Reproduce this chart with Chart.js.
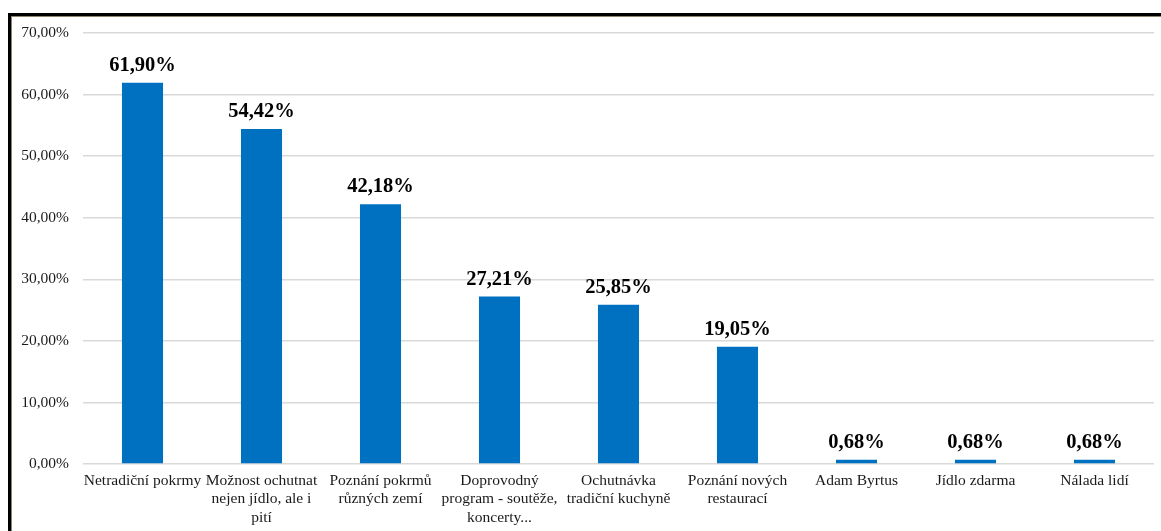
<!DOCTYPE html>
<html lang="cs">
<head>
  <meta charset="UTF-8">
  <title>Důvody návštěvy</title>
  <script src="https://cdn.jsdelivr.net/npm/chart.js"></script>
  <style>
    html, body {
      margin: 0;
      padding: 0;
      background: #fff;
      overflow: hidden;
    }
    #frame {
      position: absolute;
      left: 8px;
      top: 13px;
      width: 1153px;
      height: 518px;
      border-top: 3px solid #000;
      border-left: 3px solid #000;
      box-shadow: inset 1px 1px 0 #8c8670;
    }
    #chart-container {
      position: absolute;
      left: 0;
      top: 0;
      width: 1161px;
      height: 531px;
    }
  </style>
</head>
<body>

<div id="frame"></div>
<div id="chart-container">
  <canvas id="barChart"></canvas>
</div>

<script>
  // categories (multi-line labels as arrays)
  const categories = [
    'Netradiční pokrmy',
    ['Možnost ochutnat', 'nejen jídlo, ale i', 'pití'],
    ['Poznání pokrmů', 'různých zemí'],
    ['Doprovodný', 'program - soutěže,', 'koncerty...'],
    ['Ochutnávka', 'tradiční kuchyně'],
    ['Poznání nových', 'restaurací'],
    'Adam Byrtus',
    'Jídlo zdarma',
    'Nálada lidí'
  ];
  // share of respondents, %
  const shares = [61.90, 54.42, 42.18, 27.21, 25.85, 19.05, 0.68, 0.68, 0.68];

  const fmt = v => v.toFixed(2).replace('.', ',') + '%';

  // value labels above each bar
  const valueLabels = {
    id: 'valueLabels',
    afterDatasetsDraw(chart) {
      const ctx = chart.ctx;
      const meta = chart.getDatasetMeta(0);
      ctx.save();
      ctx.font = 'bold 20.5px "Liberation Serif", serif';
      ctx.fillStyle = '#000';
      ctx.textAlign = 'center';
      ctx.textBaseline = 'bottom';
      meta.data.forEach((bar, i) => {
        ctx.fillText(fmt(shares[i]), bar.x, bar.y - 7);
      });
      ctx.restore();
    }
  };

  new Chart(document.getElementById('barChart'), {
    type: 'bar',
    data: {
      labels: categories,
      datasets: [{
        data: shares,
        backgroundColor: '#0070C0',
        borderWidth: 0,
        barPercentage: 0.345,
        categoryPercentage: 1
      }]
    },
    options: {
      responsive: true,
      maintainAspectRatio: false,
      animation: false,
      layout: {
        padding: { left: 0, right: 7, top: 33, bottom: 0 }
      },
      plugins: {
        legend: { display: false },
        tooltip: { enabled: false }
      },
      scales: {
        x: {
          grid: { display: false, drawTicks: false },
          border: { display: false },
          ticks: {
            color: '#1a1a1a',
            font: { family: '"Liberation Serif", serif', size: 15.5, lineHeight: 1.22 },
            padding: 7,
            maxRotation: 0,
            autoSkip: false
          },
          afterFit(scale) { scale.height = 67; }
        },
        y: {
          min: 0,
          max: 70,
          grid: { color: '#d9d9d9', lineWidth: 1.5, drawTicks: false },
          border: { display: false },
          ticks: {
            stepSize: 10,
            color: '#1a1a1a',
            font: { family: '"Liberation Serif", serif', size: 15.5 },
            padding: 14,
            callback: v => fmt(v)
          },
          afterFit(scale) { scale.width = 83; }
        }
      }
    },
    plugins: [valueLabels]
  });
</script>
</body>
</html>
